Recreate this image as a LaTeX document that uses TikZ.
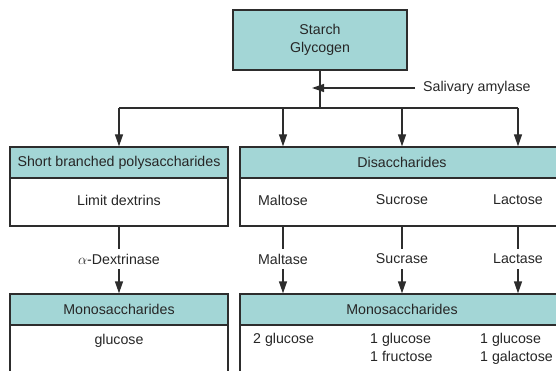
\documentclass[tikz,border=0pt]{standalone}
\usepackage{fontspec}
\setmainfont{Liberation Sans}
\usetikzlibrary{arrows.meta}

\definecolor{myteal}{RGB}{163,214,214}
\definecolor{myline}{RGB}{45,45,45}

\begin{document}
\begin{tikzpicture}[x=1pt,y=-1pt,
            arrow/.style={line width=1.3pt,-{Triangle[length=12pt,width=8pt]},myline},
            link/.style={line width=1.3pt,myline},
            head/.style={draw=myline,line width=1.3pt,fill=myteal,rectangle,inner sep=0pt},
            body/.style={draw=myline,line width=1.3pt,fill=white,rectangle,inner sep=0pt},
            label/.style={inner sep=5pt,align=center},
            font=\fontsize{14.2}{18}\selectfont\color{black!85}
         ]
      \useasboundingbox (0,0) rectangle (556,371);
      \clip (0,0) rectangle (556,371);

      % boxes
      \node[head,minimum width=174pt,minimum height=60pt] (start) at (320,40) {};
      \node[label] (startt) at (320,40) {Starch\\Glycogen};
      \node[head,minimum width=218pt,minimum height=31pt] (lhead) at (119,162.5) {};
      \node[body,minimum width=218pt,minimum height=48pt] (lbody) at (119,202) {};
      \node[head,minimum width=324pt,minimum height=31pt] (rhead) at (402,162.5) {};
      \node[body,minimum width=324pt,minimum height=48pt] (rbody) at (402,202) {};
      \node[head,minimum width=218pt,minimum height=31pt] (lmono) at (119,309.5) {};
      \node[body,minimum width=218pt,minimum height=60pt] (lmonob) at (119,355) {};
      \node[head,minimum width=324pt,minimum height=31pt] (rmono) at (402,309.5) {};
      \node[body,minimum width=324pt,minimum height=60pt] (rmonob) at (402,355) {};

      % texts in the boxes
      \node[label] at (lhead) {Short branched polysaccharides};
      \node[label] at (rhead) {Disaccharides};
      \node[label] at (lmono) {Monosaccharides};
      \node[label] at (rmono) {Monosaccharides};
      \node[label] (dextrin) at (119,200) {Limit dextrins};
      \node[label] (maltose) at (283,200) {Maltose};
      \node[label] (sucrose) at (402,200) {Sucrose};
      \node[label] (lactose) at (518,200) {Lactose};
      \node[label] (gl1) at (119,341) {glucose};
      \node[label,anchor=north west,inner sep=0pt] (gl2) at (253,333) {2 glucose};
      \node[label,anchor=north west,inner sep=0pt,align=left] (gl3) at (370,333) {1 glucose\\1 fructose};
      \node[label,anchor=north west,inner sep=0pt,align=left] (gl4) at (480,333) {1 glucose\\1 galactose};

      % enzymes
      \node[label,anchor=west,inner sep=0pt] (saliva) at (423,88) {Salivary amylase};
      \node[label] (adex) at (119,259) {$\alpha$-Dextrinase};
      \node[label] (maltase) at (283,259) {Maltase};
      \node[label] (sucrase) at (402,259) {Sucrase};
      \node[label] (lactase) at (518,259) {Lactase};

      \coordinate (split) at (320,108);
      \coordinate (b1) at (119,108);
      \coordinate (b2) at (283,108);
      \coordinate (b3) at (402,108);
      \coordinate (b4) at (518,108);

      % connectors
      \draw[link] (start.south) -- (split);
      \draw[arrow] ([xshift=-8pt]saliva.west) -- ([xshift=-8pt]saliva.west -| split);
      \draw[link] (b1) -- (b4);
      \draw[arrow] (b1) -- (lhead.north);
      \draw[arrow] (b2) -- (b2 |- rhead.north);
      \draw[arrow] (b3) -- (b3 |- rhead.north);
      \draw[arrow] (b4) -- (b4 |- rhead.north);

      \draw[link] (lbody.south) -- (adex.north);
      \draw[arrow] (adex.south) -- (lmono.north);
      \draw[link] (maltase |- rbody.south) -- (maltase.north);
      \draw[arrow] (maltase.south) -- (maltase |- rmono.north);
      \draw[link] (sucrase |- rbody.south) -- (sucrase.north);
      \draw[arrow] (sucrase.south) -- (sucrase |- rmono.north);
      \draw[link] (lactase |- rbody.south) -- (lactase.north);
      \draw[arrow] (lactase.south) -- (lactase |- rmono.north);

   \end{tikzpicture}
\end{document}
